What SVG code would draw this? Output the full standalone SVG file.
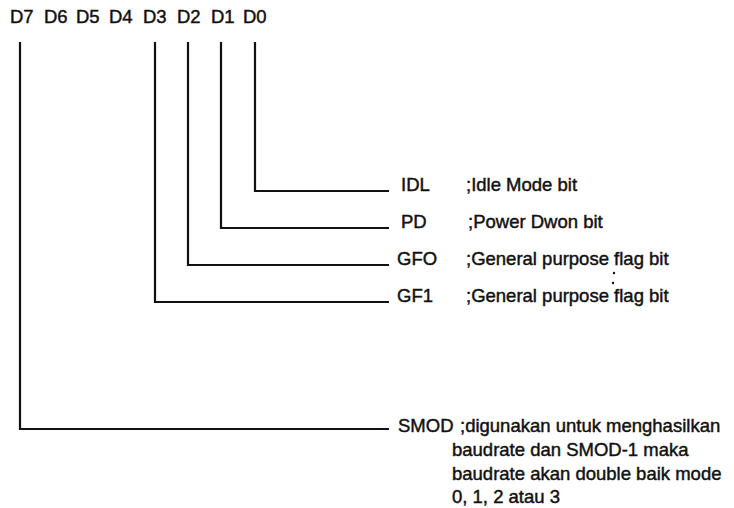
<svg xmlns="http://www.w3.org/2000/svg" width="734" height="508" viewBox="0 0 734 508">
<style>
text{font-family:"Liberation Sans",Arial,sans-serif;font-size:18.5px;fill:#111;stroke:#111;stroke-width:0.45}
.c{fill:none;stroke:#111;stroke-width:2.2;stroke-linejoin:miter}
</style>
<rect width="734" height="508" fill="#fff"/>
<g id="header">
<text x="10" y="23">D7</text>
<text x="44" y="23">D6</text>
<text x="76" y="23">D5</text>
<text x="109" y="23">D4</text>
<text x="143" y="23">D3</text>
<text x="177" y="23">D2</text>
<text x="211" y="23">D1</text>
<text x="243" y="23">D0</text>
</g>
<g id="connectors">
<polyline class="c" points="255,42 255,191 389,191"/>
<polyline class="c" points="221,42 221,228 389,228"/>
<polyline class="c" points="188,42 188,265 389,265"/>
<polyline class="c" points="155,42 155,302 389,302"/>
<polyline class="c" points="20,42 20,429 389,429"/>
</g>
<g id="idl"><text x="401" y="191">IDL</text><text x="466" y="191">;Idle Mode bit</text></g>
<g id="pd"><text x="401" y="228">PD</text><text x="468" y="228">;Power Dwon bit</text></g>
<g id="gfo"><text x="397" y="265">GFO</text><text x="466" y="265">;General purpose flag bit</text></g>
<g id="gf1"><text x="397" y="302">GF1</text><text x="466" y="302">;General purpose flag bit</text></g>
<g id="smod"><text x="398" y="432">SMOD</text><text x="460" y="432">;digunakan untuk menghasilkan</text><text x="452" y="456">baudrate dan SMOD-1 maka</text><text x="452" y="480">baudrate akan double baik mode</text><text x="452" y="503">0, 1, 2 atau 3</text></g>
<circle cx="614" cy="273" r="1.2" fill="#111"/>
<circle cx="613" cy="283" r="1.2" fill="#111"/>
</svg>
